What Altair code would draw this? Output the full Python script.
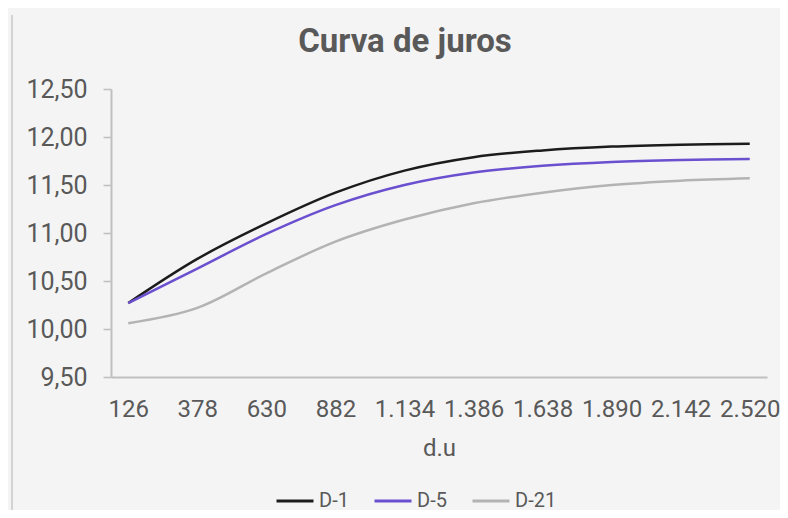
import altair as alt
import pandas as pd

categories = ["126", "378", "630", "882", "1.134", "1.386", "1.638", "1.890", "2.142", "2.520"]
d1 = [10.27, 10.73, 11.10, 11.42, 11.65, 11.79, 11.86, 11.90, 11.92, 11.93]
d5 = [10.27, 10.63, 10.99, 11.29, 11.50, 11.63, 11.70, 11.74, 11.76, 11.77]
d21 = [10.06, 10.22, 10.58, 10.91, 11.14, 11.31, 11.42, 11.50, 11.545, 11.57]
series_names = ["D-1", "D-5", "D-21"]
series_colors = ["#1c1c1c", "#6a4fcf", "#b3b3b3"]
title_text = "Curva de juros"

rows = []
for name, vals in zip(series_names, [d1, d5, d21]):
    for c, v in zip(categories, vals):
        rows.append({"du": c, "taxa": v, "serie": name})
df = pd.DataFrame(rows)

FONT = "Roboto"
TXT = "#595959"

lines = alt.Chart(df).mark_line(interpolate="catmull-rom", strokeWidth=2.5).encode(
    x=alt.X("du:N", sort=categories, scale=alt.Scale(type="point", padding=0.25),
            axis=alt.Axis(title="d.u", labelAngle=0, ticks=False, domainColor="#bfbfbf",
                          domainWidth=2, labelFontSize=24, labelColor=TXT, labelFont=FONT,
                          labelPadding=20, titleFontSize=24, titleColor=TXT, titleFont=FONT,
                          titleFontWeight="normal", titlePadding=15, grid=False,
                          labelOverlap=False)),
    y=alt.Y("taxa:Q", scale=alt.Scale(domain=[9.5, 12.5], nice=False, zero=False),
            axis=alt.Axis(title=None, values=[9.5, 10, 10.5, 11, 11.5, 12, 12.5],
                          labelExpr="replace(format(datum.value, '.2f'), '.', ',')",
                          tickSize=8, tickColor="#bfbfbf", domainColor="#bfbfbf",
                          domainWidth=2, tickWidth=1.5, labelFontSize=25, labelColor=TXT,
                          labelFont=FONT, labelPadding=16, grid=False)),
    color=alt.Color("serie:N", sort=series_names,
                    scale=alt.Scale(domain=series_names, range=series_colors),
                    legend=alt.Legend(title=None, orient="none", direction="horizontal",
                                      legendX=164, legendY=392, symbolType="stroke",
                                      symbolSize=1369, symbolStrokeWidth=3,
                                      labelFontSize=20, labelColor=TXT, labelFont=FONT,
                                      labelOffset=4, columnPadding=19)),
)

border = alt.Chart(pd.DataFrame({"a": [0]})).mark_rule(color="#c8c8c8", strokeWidth=1.5).encode(
    x=alt.value(-99), y=alt.value(-74), y2=alt.value(440)
)

title = alt.Chart(pd.DataFrame({"t": [title_text]})).mark_text(
    font=FONT, fontSize=33, fontWeight="bold", color=TXT, align="center", baseline="alphabetic"
).encode(x=alt.value(294), y=alt.value(-37), text="t:N")

chart = alt.layer(border, lines, title).properties(
    width=656, height=288,
    autosize=alt.AutoSizeParams(type="none"),
    padding={"left": 103, "top": 81, "right": 13, "bottom": 133},
).configure(background="#f4f4f4").configure_view(stroke=None)

chart.save("out.html", embed_options={"renderer": "svg", "actions": False})
